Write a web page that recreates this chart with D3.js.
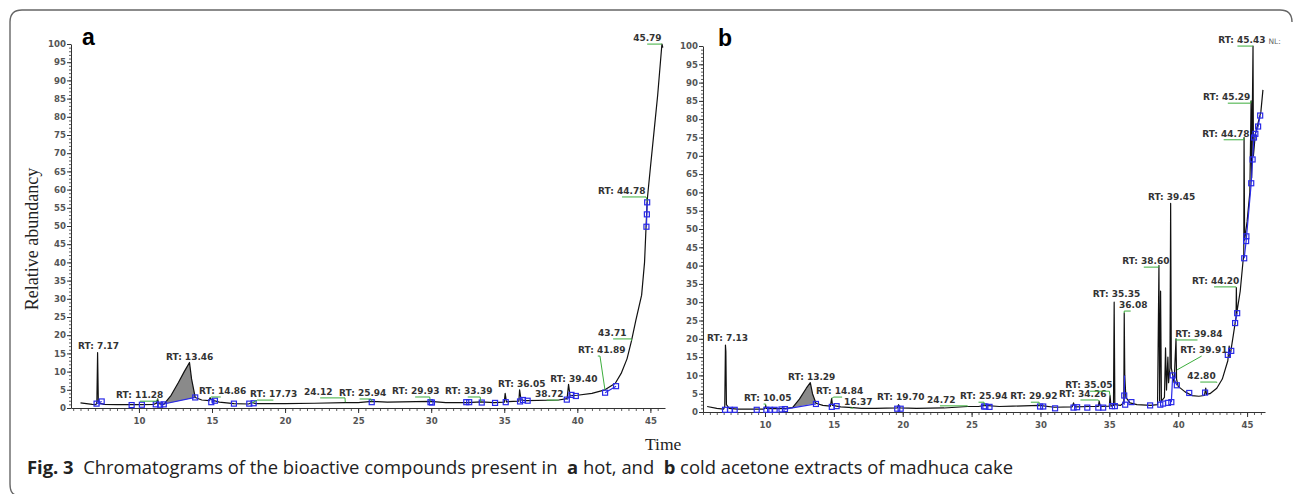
<!DOCTYPE html>
<html><head><meta charset="utf-8">
<script src="https://cdn.jsdelivr.net/npm/d3@7"></script>
<style>
html,body{margin:0;padding:0;background:#fff;}
svg{display:block;}
</style></head>
<body>
<svg id="chart" width="1293" height="494"></svg>
<script>
// ---------------- DATA ----------------
const yTicks = d3.range(0, 101, 5);
const xTicks = [10, 15, 20, 25, 30, 35, 40, 45];

// Panel a (hot acetone extract) trace [time, relative abundance]
const traceA = [
 [6.0,1.4],[6.8,1.0],[7.05,0.9],[7.12,1.5],[7.17,15.2],[7.22,1.8],[7.35,1.3],[7.6,1.0],[8.5,0.9],[9.5,0.9],
 [10.2,0.9],[11.0,1.0],[11.2,1.3],[11.28,2.5],[11.35,1.2],[11.7,1.0],[12.2,3.5],[12.7,7.0],[13.1,10.0],[13.46,12.5],
 [13.6,8.0],[13.85,2.9],[14.3,2.2],[14.8,2.0],[14.86,2.8],[15.0,2.2],[15.5,1.6],[16.5,1.2],[17.5,1.1],[17.73,1.5],
 [18.0,1.2],[20.0,1.2],[22.0,1.3],[24.12,1.5],[25.0,1.5],[25.94,1.8],[27.0,1.6],[29.93,1.8],[31.0,1.5],[32.5,1.5],
 [33.39,1.7],[34.3,1.5],[35.0,1.6],[35.06,4.0],[35.15,1.7],[36.0,1.9],[36.05,5.0],[36.15,2.2],[36.5,2.0],[38.72,2.2],
 [39.3,2.6],[39.40,6.5],[39.5,3.4],[40.0,3.5],[41.0,4.0],[41.89,5.0],[42.6,6.8],[43.0,9.5],[43.4,13.5],[43.71,18.5],
 [44.0,24.0],[44.4,31.0],[44.6,40.0],[44.78,57.0],[45.0,66.0],[45.3,78.0],[45.5,86.0],[45.79,100.0],[45.85,99.0]
];
// Panel b (cold acetone extract) trace
const traceB = [
 [5.8,1.5],[6.5,1.0],[7.0,0.8],[7.08,1.5],[7.13,18.3],[7.16,16.5],[7.2,2.0],[7.4,1.0],[8.0,0.8],[9.0,0.8],
 [9.9,0.8],[10.0,1.0],[10.05,1.8],[10.1,1.0],[10.5,0.9],[11.0,0.9],[11.5,1.0],[12.0,1.2],[12.5,3.5],[13.0,6.5],
 [13.29,8.0],[13.45,5.0],[13.7,2.4],[14.2,1.8],[14.75,1.6],[14.84,3.7],[14.9,1.8],[15.5,1.4],[16.37,1.2],[17.0,1.0],
 [18.0,1.0],[19.6,1.1],[19.70,2.0],[19.8,1.1],[21.0,1.0],[23.0,1.1],[24.72,1.5],[25.5,1.5],[25.94,1.8],[27.0,1.5],
 [28.0,1.6],[29.92,1.8],[31.0,1.3],[32.3,1.4],[32.4,2.5],[32.5,1.4],[33.5,1.5],[34.2,1.5],[34.26,3.0],[34.35,1.5],
 [35.0,1.6],[35.05,4.5],[35.12,1.6],[35.3,1.8],[35.35,30.0],[35.4,2.0],[35.8,1.8],[36.05,2.5],[36.08,27.0],[36.12,10.0],
 [36.2,4.0],[36.5,2.5],[37.0,2.0],[38.0,1.8],[38.5,2.0],[38.6,40.0],[38.65,3.0],[38.72,33.0],[38.78,3.0],[39.0,4.0],
 [39.08,17.5],[39.15,6.0],[39.25,15.0],[39.3,8.0],[39.4,12.0],[39.45,57.0],[39.5,12.0],[39.7,8.0],[39.84,20.0],[39.88,9.0],
 [40.0,7.0],[40.5,5.5],[41.0,4.5],[41.5,4.3],[41.9,4.5],[42.0,6.5],[42.05,4.8],[42.3,5.0],[42.8,6.5],[43.2,9.0],
 [43.6,14.0],[43.7,18.0],[43.75,15.0],[44.0,21.0],[44.2,26.0],[44.22,34.0],[44.25,27.0],[44.5,33.0],[44.7,41.0],[44.76,43.0],
 [44.78,75.0],[44.82,47.0],[45.0,52.0],[45.2,60.0],[45.29,85.0],[45.33,64.0],[45.43,100.0],[45.46,70.0],[45.6,76.0],[45.8,79.0],
 [46.0,82.0],[46.15,88.0]
];

// Gray-filled integrated peaks: [start time, end time]
const filledA = [11.7, 13.85];
const filledB = [12.0, 13.7];

// Peak boundary markers (blue squares)
const markersA = [
 [7.1,1.2],[7.45,1.8],[9.5,0.8],[10.2,0.9],[11.15,1.0],[11.45,0.9],[11.7,1.0],[13.85,2.9],[14.95,1.6],[15.2,2.0],
 [16.5,1.2],[17.55,1.2],[17.85,1.3],[25.93,1.6],[29.95,1.6],[30.05,1.5],[32.4,1.6],[32.6,1.6],[33.46,1.5],[34.37,1.4],
 [35.1,1.6],[36.08,1.8],[36.28,2.2],[36.6,2.0],[39.28,2.3],[39.6,3.6],[39.9,3.3],[41.9,4.2],[42.65,6.0],
 [44.78,56.5],[44.76,53.2],[44.73,49.8]
];
const markersB = [
 [7.1,0.6],[7.46,0.6],[7.8,0.6],[9.4,0.6],[10.1,0.6],[10.37,0.6],[10.7,0.6],[11.2,0.7],[11.45,0.8],[13.7,2.2],
 [14.85,1.4],[15.2,1.6],[19.6,0.9],[19.85,0.9],[25.9,1.5],[26.0,1.5],[26.3,1.4],[29.97,1.5],[30.2,1.5],[31.06,1.0],
 [32.4,1.2],[32.66,1.3],[33.4,1.2],[34.2,1.2],[34.55,1.2],[35.2,1.6],[35.4,1.6],[36.08,4.5],[36.15,2.0],[36.6,2.7],
 [37.96,1.8],[38.7,2.0],[38.9,2.3],[39.26,2.5],[39.5,2.7],[39.6,10.0],[39.9,7.3],[40.8,5.2],[41.95,5.3],[43.6,15.6],
 [43.85,16.7],[44.13,24.3],[44.28,27.0],[44.79,42.0],[44.93,46.7],[44.95,48.0],[45.3,62.5],[45.4,69.0],[45.5,75.0],
 [45.6,76.0],[45.8,78.0],[45.95,81.0]
];
// Blue baselines joining markers
const blueA = [
 [[11.45,0.9],[13.85,2.9]], [[7.1,1.2],[7.45,1.8]], [[14.95,1.6],[15.2,2.0]], [[41.9,4.2],[42.65,6.0]],
 [[44.78,56.5],[44.73,49.8]], [[39.28,2.3],[39.6,3.6]]
];
const blueB = [
 [[11.45,0.8],[13.7,2.2]], [[36.08,2.0],[36.1,10.0]], [[39.5,2.7],[39.6,10.0],[39.9,7.3]],
 [[44.79,42.0],[44.93,46.7],[45.3,62.5],[45.4,69.0],[45.5,75.0],[45.6,76.0],[45.8,78.0],[45.95,81.0]],
 [[43.6,15.6],[43.85,16.7]], [[44.13,24.3],[44.28,27.0]]
];

// Peak labels: [text, label time, label value(baseline), peak time, peak value, green from, green to]
const labelsA = [
 ["RT: 7.17", 5.83, 16.2, 7.17, 15.2, null, null],
 ["RT: 11.28", 8.43, 2.7, 11.28, 2.5, 10.07, 11.2],
 ["RT: 13.46", 11.85, 13.2, 13.46, 12.5, null, null],
 ["RT: 14.86", 14.11, 3.85, 14.86, 2.8, 15.6, 14.95],
 ["RT: 17.73", 17.6, 3.0, 17.73, 1.4, 19.2, 18.1],
 ["24.12", 21.3, 3.6, 24.12, 1.6, 22.4, 24.1],
 ["RT: 25.94", 23.69, 3.3, 25.94, 1.8, 25.1, 25.9],
 ["RT: 29.93", 27.32, 3.85, 29.93, 1.8, 28.9, 29.9],
 ["RT: 33.39", 30.95, 3.85, 33.39, 1.7, 32.5, 33.35],
 ["RT: 36.05", 34.58, 5.8, 36.05, 5.0, null, null],
 ["38.72", 37.1, 3.0, 38.72, 2.2, 37.9, 38.7],
 ["RT: 39.40", 38.14, 7.1, 39.40, 6.5, null, null],
 ["RT: 41.89", 40.05, 15.1, 41.89, 5.0, 41.4, 41.55],
 ["43.71", 41.42, 19.8, 43.71, 18.5, 42.45, 43.7],
 ["RT: 44.78", 41.42, 58.8, 44.78, 57.0, 43.06, 44.7],
 ["45.79", 43.82, 100.8, 45.79, 100.0, 44.78, 45.75]
];
const labelsB = [
 ["RT: 7.13", 5.79, 19.4, 7.13, 18.3, null, null],
 ["RT: 10.05", 8.48, 3.0, 10.05, 1.8, 9.9, 10.05],
 ["RT: 13.29", 11.67, 8.7, 13.29, 8.0, null, null],
 ["RT: 14.84", 13.7, 4.9, 14.84, 3.7, 15.6, 15.0],
 ["16.37", 15.74, 1.9, 16.37, 1.2, 16.2, 16.4],
 ["RT: 19.70", 18.14, 3.3, 19.70, 2.0, null, null],
 ["24.72", 21.77, 2.5, 24.72, 1.5, 22.7, 24.7],
 ["RT: 25.94", 24.16, 3.5, 25.94, 1.8, 25.5, 25.9],
 ["RT: 29.92", 27.8, 3.5, 29.92, 1.8, 29.3, 29.9],
 ["RT: 34.26", 31.35, 4.1, 34.26, 3.0, 32.9, 34.2],
 ["RT: 35.05", 31.79, 6.5, 35.05, 4.5, 33.6, 35.0],
 ["RT: 35.35", 33.8, 31.5, 35.35, 30.0, null, null],
 ["36.08", 35.7, 28.4, 36.08, 27.0, 36.55, 36.08],
 ["RT: 38.60", 35.93, 40.4, 38.60, 40.0, 37.5, 38.55],
 ["RT: 39.45", 37.8, 57.9, 39.45, 57.0, null, null],
 ["RT: 39.84", 39.78, 20.5, 39.84, 20.0, 41.4, 39.84],
 ["RT: 39.91", 40.14, 16.1, 39.91, 11.5, 41.7, 41.7],
 ["42.80", 40.65, 9.0, 42.80, 8.0, 41.6, 42.8],
 ["RT: 44.20", 41.0, 35.0, 44.20, 34.0, 42.6, 44.2],
 ["RT: 44.78", 41.74, 75.2, 44.78, 75.0, 43.3, 44.75],
 ["RT: 45.29", 41.8, 85.2, 45.29, 85.0, 43.6, 45.25],
 ["RT: 45.43", 42.9, 100.8, 45.43, 100.0, 44.3, 45.4]
];
const extraB = ["NL:", 46.55, 100.6];

const panelLetters = ["a", "b"];
const yTitle = "Relative abundancy";
const xTitle = "Time";
const captionParts = [
 ["Fig. 3", true], ["\u00a0 Chromatograms of the bioactive compounds present in \u00a0", false],
 ["a", true], [" hot, and \u00a0", false], ["b", true], [" cold acetone extracts of madhuca cake", false]
];

// ---------------- DRAWING ----------------
const svg = d3.select("#chart");

// frame
svg.append("path")
  .attr("d", "M1292,22 Q1292,10 1280,10 L22,10 Q10,10 10,22 L10,484 Q10,494 16,495")
  .attr("fill", "none").attr("stroke", "#666").attr("stroke-width", 1.4);

const panels = [
  {x: d3.scaleLinear().domain([5.35, 46.0]).range([71, 665]),
   y: d3.scaleLinear().domain([0, 100]).range([408, 44]),
   trace: traceA, filled: filledA, markers: markersA, blue: blueA, labels: labelsA, letter: panelLetters[0]},
  {x: d3.scaleLinear().domain([5.5, 46.3]).range([703, 1265]),
   y: d3.scaleLinear().domain([0, 100]).range([412, 46]),
   trace: traceB, filled: filledB, markers: markersB, blue: blueB, labels: labelsB, letter: panelLetters[1]}
];

const tickFont = "'DejaVu Sans', sans-serif";

panels.forEach((p, pi) => {
  const g = svg.append("g");
  const x = p.x, y = p.y;
  const [x0, x1] = x.range();
  const [yb] = y.range();

  // y axis minor
  g.append("g").attr("transform", `translate(${x0},0)`)
    .call(d3.axisLeft(y).tickValues(d3.range(0, 101, 1)).tickSize(2).tickSizeOuter(0).tickFormat(""))
    .call(s => s.select(".domain").remove())
    .selectAll("line").attr("stroke", "#333").attr("stroke-width", 0.8);
  // y axis major
  const ya = g.append("g").attr("transform", `translate(${x0},0)`)
    .call(d3.axisLeft(y).tickValues(yTicks).tickSize(4).tickSizeOuter(0).tickPadding(1).tickFormat(d3.format("d")));
  ya.select(".domain").attr("stroke", "#333");
  ya.selectAll("line").attr("stroke", "#333");
  ya.selectAll("text").attr("font-family", tickFont).attr("font-size", 8.6).attr("font-weight", "bold").attr("fill", "#555");

  // x axis minor
  g.append("g").attr("transform", `translate(0,${yb})`)
    .call(d3.axisBottom(x).tickValues(d3.range(5.5, x.domain()[1], 0.5)).tickSize(3).tickSizeOuter(0).tickFormat(""))
    .call(s => s.select(".domain").remove())
    .selectAll("line").attr("stroke", "#333").attr("stroke-width", 0.8);
  const xa = g.append("g").attr("transform", `translate(0,${yb})`)
    .call(d3.axisBottom(x).tickValues(xTicks).tickSize(5).tickSizeOuter(0).tickPadding(5).tickFormat(d3.format("d")));
  xa.select(".domain").attr("stroke", "#333");
  xa.selectAll("line").attr("stroke", "#333");
  xa.selectAll("text").attr("font-family", tickFont).attr("font-size", 8.6).attr("font-weight", "bold").attr("fill", "#555");

  // filled peak
  const seg = p.trace.filter(d => d[0] >= p.filled[0] && d[0] <= p.filled[1]);
  g.append("path").datum(seg)
    .attr("d", d3.line().x(d => x(d[0])).y(d => y(d[1])).curve(d3.curveLinear)(seg) + "Z")
    .attr("fill", "#8a8a8a").attr("stroke", "none");

  // trace
  g.append("path").datum(p.trace)
    .attr("d", d3.line().x(d => x(d[0])).y(d => y(d[1])))
    .attr("fill", "none").attr("stroke", "#111").attr("stroke-width", 1.2).attr("stroke-linejoin", "round");

  // blue baselines
  p.blue.forEach(b => {
    g.append("path").datum(b)
      .attr("d", d3.line().x(d => x(d[0])).y(d => y(d[1])))
      .attr("fill", "none").attr("stroke", "#2a2ae8").attr("stroke-width", 1.2);
  });
  // markers
  g.selectAll("rect.mk").data(p.markers).join("rect").attr("class", "mk")
    .attr("x", d => x(d[0]) - 2.5).attr("y", d => y(d[1]) - 2.5)
    .attr("width", 5).attr("height", 5)
    .attr("fill", "none").attr("stroke", "#2a2ae8").attr("stroke-width", 1.2);

  // labels
  p.labels.forEach(l => {
    const [txt, lx, ly, rt, pv, gx0, gx1] = l;
    const by = y(ly);
    if (gx0 !== null) {
      g.append("path")
        .attr("d", `M${x(gx0)},${by + 3}L${x(gx1)},${by + 3}L${x(rt)},${y(pv)}`)
        .attr("fill", "none").attr("stroke", "#3cae3c").attr("stroke-width", 1);
    }
    g.append("text").attr("x", x(lx)).attr("y", by).text(txt)
      .attr("font-family", tickFont).attr("font-size", 9).attr("font-weight", "bold").attr("fill", "#333");
  });
  if (pi === 1) {
    g.append("text").attr("x", x(extraB[1])).attr("y", y(extraB[2])).text(extraB[0])
      .attr("font-family", tickFont).attr("font-size", 7.5).attr("fill", "#666");
  }

  // panel letter
  g.append("text").attr("x", x0 + 11 + pi * 4).attr("y", 45 + pi)
    .attr("font-family", "'Liberation Sans', Arial, sans-serif").attr("font-weight", "bold")
    .attr("font-size", 23).attr("fill", "#000").text(p.letter);
});

// axis titles
svg.append("text").attr("transform", "translate(38,239) rotate(-90)")
  .attr("text-anchor", "middle").attr("font-family", "'Liberation Serif', 'Times New Roman', serif")
  .attr("font-size", 18).attr("fill", "#222").text(yTitle);
svg.append("text").attr("x", 645).attr("y", 450)
  .attr("font-family", "'Liberation Serif', 'Times New Roman', serif")
  .attr("font-size", 17.5).attr("fill", "#222").text(xTitle);

// caption
const cap = svg.append("text").attr("x", 27).attr("y", 474)
  .attr("font-family", "'Open Sans', 'Noto Sans', sans-serif").attr("font-size", 16).attr("fill", "#222")
  .attr("xml:space", "preserve");
captionParts.forEach(([t, b]) => {
  cap.append("tspan").attr("font-weight", b ? "bold" : "normal").text(t);
});
const len = cap.node().getComputedTextLength();
cap.attr("font-size", 16 * 987 / len);
</script>
</body></html>
